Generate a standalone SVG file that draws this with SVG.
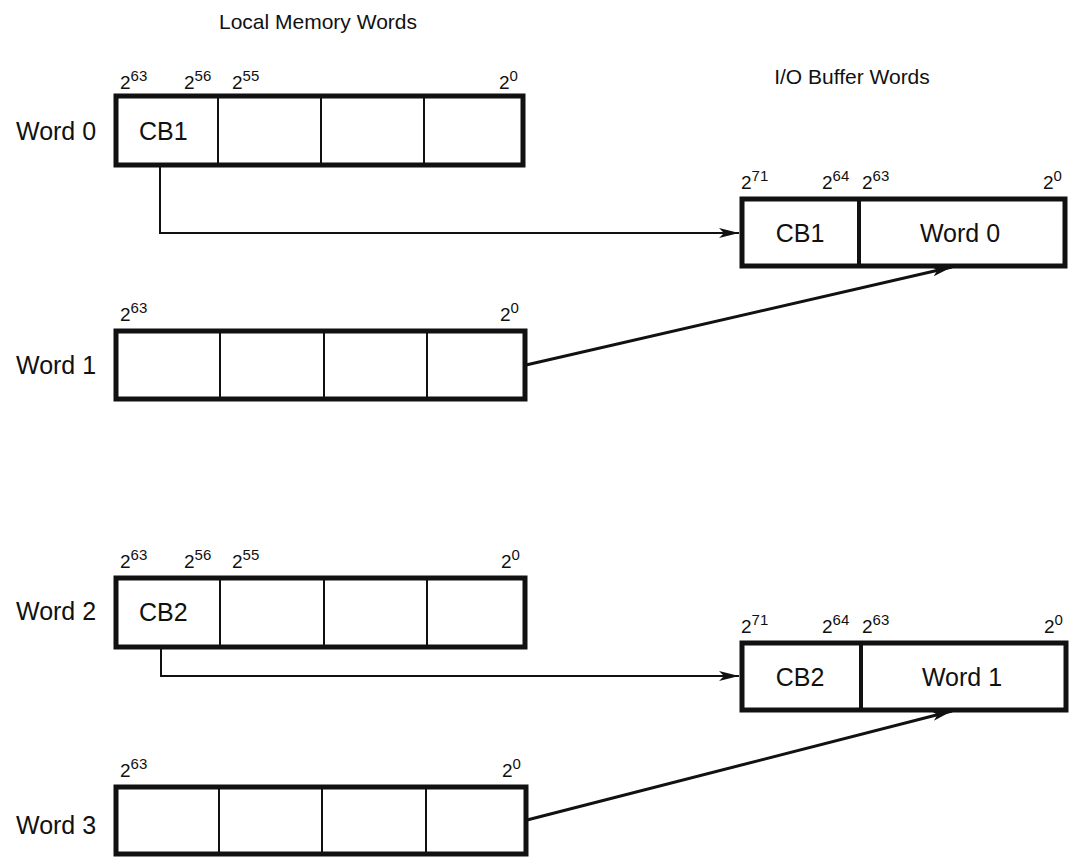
<svg xmlns="http://www.w3.org/2000/svg" width="1084" height="859" viewBox="0 0 1084 859">
  <style>
    text { font-family: "Liberation Sans", Arial, sans-serif; fill: #111; }
    .title { font-size: 21px; }
    .lbl { font-size: 25px; }
    .bit { font-size: 19px; }
    .sup { font-size: 15px; }
    .frame { fill: #fff; stroke: #111; stroke-width: 5; }
    .div { stroke: #111; stroke-width: 2; }
    .wire { fill: none; stroke: #111; stroke-width: 2; }
    .wire-bold { fill: none; stroke: #111; stroke-width: 3; }
  </style>
  <defs>
    <marker id="arrow" viewBox="0 0 20 10" refX="20" refY="5" markerWidth="20" markerHeight="10" markerUnits="userSpaceOnUse" orient="auto">
      <path d="M0,0 L20,5 L0,10 L5,5 Z" fill="#111"/>
    </marker>
  </defs>

  <rect width="1084" height="859" fill="#fff"/>

  <text class="title" x="318" y="29" text-anchor="middle">Local Memory Words</text>
  <text class="title" x="852" y="84" text-anchor="middle">I/O Buffer Words</text>

  <!-- local memory word 0 -->
  <g id="word0">
    <text class="lbl" x="16" y="140">Word 0</text>
    <text class="bit" x="120" y="89">2<tspan class="sup" dy="-8">63</tspan></text>
    <text class="bit" x="184" y="89">2<tspan class="sup" dy="-8">56</tspan></text>
    <text class="bit" x="232" y="89">2<tspan class="sup" dy="-8">55</tspan></text>
    <text class="bit" x="499" y="89">2<tspan class="sup" dy="-8">0</tspan></text>
    <rect class="frame" x="116" y="96" width="407" height="69"/>
    <line class="div" x1="218" y1="96" x2="218" y2="165"/>
    <line class="div" x1="321" y1="96" x2="321" y2="165"/>
    <line class="div" x1="424" y1="96" x2="424" y2="165"/>
    <text class="lbl" x="139" y="140">CB1</text>
  </g>

  <!-- local memory word 1 -->
  <g id="word1">
    <text class="lbl" x="16" y="374">Word 1</text>
    <text class="bit" x="120" y="321">2<tspan class="sup" dy="-8">63</tspan></text>
    <text class="bit" x="500" y="321">2<tspan class="sup" dy="-8">0</tspan></text>
    <rect class="frame" x="116" y="331" width="409" height="68"/>
    <line class="div" x1="220" y1="331" x2="220" y2="399"/>
    <line class="div" x1="324" y1="331" x2="324" y2="399"/>
    <line class="div" x1="427" y1="331" x2="427" y2="399"/>
  </g>

  <!-- local memory word 2 -->
  <g id="word2">
    <text class="lbl" x="16" y="620">Word 2</text>
    <text class="bit" x="120" y="568">2<tspan class="sup" dy="-8">63</tspan></text>
    <text class="bit" x="184" y="568">2<tspan class="sup" dy="-8">56</tspan></text>
    <text class="bit" x="232" y="568">2<tspan class="sup" dy="-8">55</tspan></text>
    <text class="bit" x="501" y="568">2<tspan class="sup" dy="-8">0</tspan></text>
    <rect class="frame" x="116" y="578" width="409" height="69"/>
    <line class="div" x1="220" y1="578" x2="220" y2="647"/>
    <line class="div" x1="324" y1="578" x2="324" y2="647"/>
    <line class="div" x1="427" y1="578" x2="427" y2="647"/>
    <text class="lbl" x="139" y="621">CB2</text>
  </g>

  <!-- local memory word 3 -->
  <g id="word3">
    <text class="lbl" x="16" y="834">Word 3</text>
    <text class="bit" x="120" y="777">2<tspan class="sup" dy="-8">63</tspan></text>
    <text class="bit" x="502" y="777">2<tspan class="sup" dy="-8">0</tspan></text>
    <rect class="frame" x="116" y="787" width="410" height="67"/>
    <line class="div" x1="219" y1="787" x2="219" y2="854"/>
    <line class="div" x1="322" y1="787" x2="322" y2="854"/>
    <line class="div" x1="426" y1="787" x2="426" y2="854"/>
  </g>

  <!-- I/O buffer word 0 -->
  <g id="iobuf0">
    <text class="bit" x="741" y="189">2<tspan class="sup" dy="-8">71</tspan></text>
    <text class="bit" x="822" y="189">2<tspan class="sup" dy="-8">64</tspan></text>
    <text class="bit" x="862" y="189">2<tspan class="sup" dy="-8">63</tspan></text>
    <text class="bit" x="1043" y="189">2<tspan class="sup" dy="-8">0</tspan></text>
    <rect class="frame" x="742" y="199" width="323" height="67"/>
    <line class="div" x1="859" y1="199" x2="859" y2="266" style="stroke-width:4"/>
    <text class="lbl" x="800" y="242" text-anchor="middle">CB1</text>
    <text class="lbl" x="960" y="242" text-anchor="middle">Word 0</text>
  </g>

  <!-- I/O buffer word 1 -->
  <g id="iobuf1">
    <text class="bit" x="741" y="633">2<tspan class="sup" dy="-8">71</tspan></text>
    <text class="bit" x="822" y="633">2<tspan class="sup" dy="-8">64</tspan></text>
    <text class="bit" x="862" y="633">2<tspan class="sup" dy="-8">63</tspan></text>
    <text class="bit" x="1044" y="633">2<tspan class="sup" dy="-8">0</tspan></text>
    <rect class="frame" x="742" y="643" width="324" height="67"/>
    <line class="div" x1="861" y1="643" x2="861" y2="710" style="stroke-width:4"/>
    <text class="lbl" x="800" y="686" text-anchor="middle">CB2</text>
    <text class="lbl" x="962" y="686" text-anchor="middle">Word 1</text>
  </g>

  <!-- connectors -->
  <g id="connectors">
    <polyline class="wire" points="160,165 160,233 739,233" marker-end="url(#arrow)"/>
    <line class="wire-bold" x1="526" y1="365" x2="952" y2="267" marker-end="url(#arrow)"/>
    <polyline class="wire" points="161,647 161,676 739,676" marker-end="url(#arrow)"/>
    <line class="wire-bold" x1="527" y1="820" x2="952" y2="711" marker-end="url(#arrow)"/>
  </g>
</svg>
